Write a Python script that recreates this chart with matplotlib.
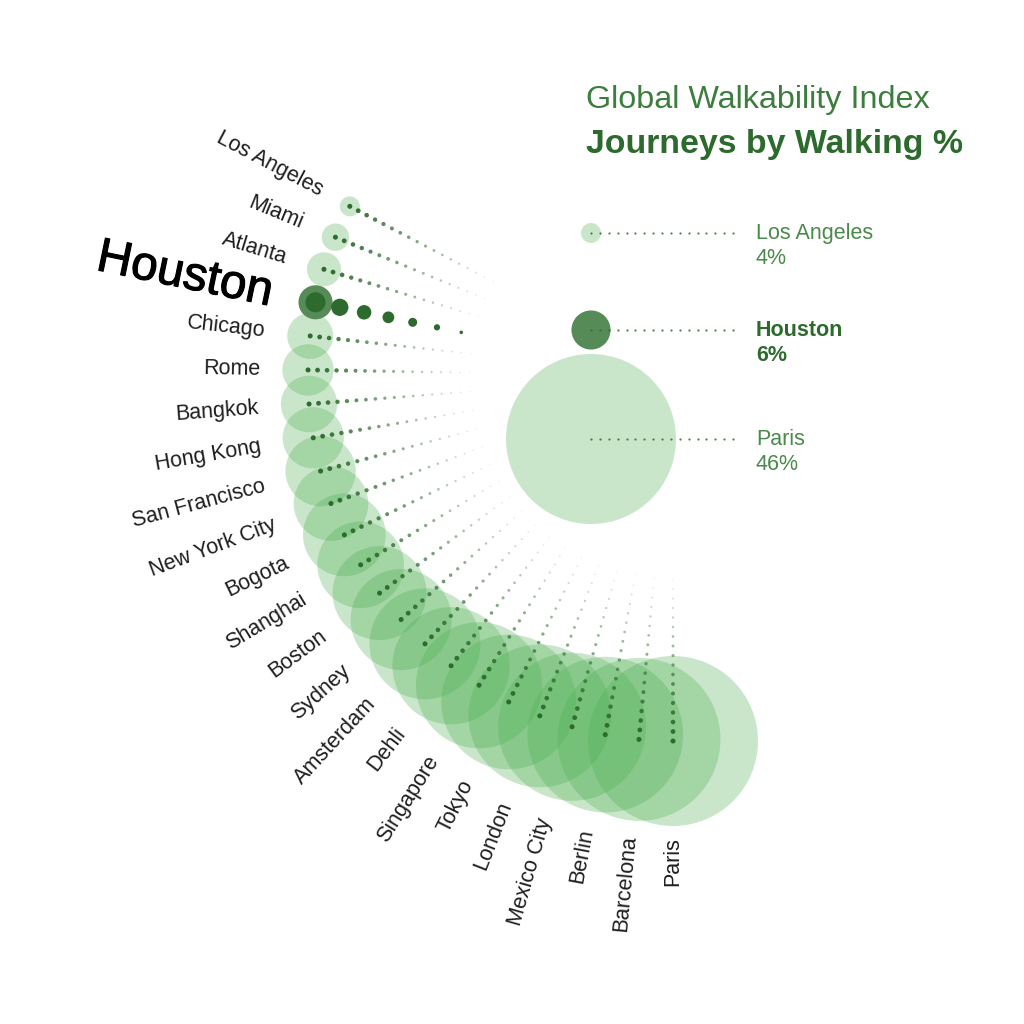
import numpy as np
import matplotlib.pyplot as plt
import matplotlib.patheffects as pe
from matplotlib.patches import Circle

# data (journeys by walking, %)
cities = ["Los Angeles", "Miami", "Atlanta", "Houston", "Chicago", "Rome", "Bangkok",
          "Hong Kong", "San Francisco", "New York City", "Bogota", "Shanghai", "Boston",
          "Sydney", "Amsterdam", "Dehli", "Singapore", "Tokyo", "London", "Mexico City",
          "Berlin", "Barcelona", "Paris"]
walking_pct = [4, 5, 6, 6, 8, 9, 10, 11, 13, 14, 16, 17, 19, 21, 24, 26, 29, 32, 35,
               37, 40, 43, 46]
highlight = "Houston"
legend_cities = ["Los Angeles", "Houston", "Paris"]

# layout
CX, CY, R = 673, 376, 365
START, STEP = 207.7, 5.35
GREEN = "#4caf50"
DARK = "#2d6a2d"
HL = "#568a56"

lo, hi = min(walking_pct), max(walking_pct)


def bubble_r(v):
    return 10 + 75 * (np.sqrt(v) - np.sqrt(lo)) / (np.sqrt(hi) - np.sqrt(lo))


def s_of(d_px):
    return (d_px * 0.72) ** 2


plt.rcParams["font.family"] = ["Liberation Sans", "DejaVu Sans"]
fig = plt.figure(figsize=(10.24, 10.24), dpi=100)
ax = fig.add_axes([0, 0, 1, 1])
ax.set_xlim(0, 1024)
ax.set_ylim(1024, 0)
ax.set_aspect("equal")
ax.axis("off")

for i, (city, v) in enumerate(zip(cities, walking_pct)):
    th = np.radians(START - i * STEP)
    x, y = CX + R * np.cos(th), CY + R * np.sin(th)
    r = bubble_r(v)
    ux, uy = -np.cos(th), -np.sin(th)
    big = city == highlight
    if big:
        ax.add_patch(Circle((x, y), r, fc=HL, ec="none", zorder=5))
        n, gap = 7, 24.8
        d = np.linspace(20, 3.5, n)
        a = np.ones(n)
    else:
        ax.add_patch(Circle((x, y), r, fc=GREEN, alpha=0.3, ec="none", zorder=2))
        n, gap = 18, 9.5
        d = np.linspace(5, 1.4, n)
        a = np.linspace(1, 0.1, n)
    k = np.arange(n) * gap
    cols = [(0.176, 0.416, 0.176, al) for al in a]
    ax.scatter(x + ux * k, y + uy * k, s=s_of(d), c=cols, lw=0, zorder=6)

    # radial label
    lr = R + (r + 27 if big else min(r + 22, 96))
    rot = np.degrees(np.arctan2(np.sin(th), -np.cos(th)))
    t = ax.text(CX + lr * np.cos(th), CY + lr * np.sin(th), city,
                rotation=rot, rotation_mode="anchor", ha="right", va="center",
                fontsize=34.5 if big else 15.5, color="black" if big else "#1e1e1e",
                zorder=7)
    if big:
        t.set_path_effects([pe.withStroke(linewidth=0.8, foreground="black")])

# titles
ax.text(586, 108, "Global Walkability Index", fontsize=23.3, color="#3d7d3d",
        ha="left", va="baseline")
ax.text(586, 153, "Journeys by Walking %", fontsize=24.4, fontweight="bold",
        color=DARK, ha="left", va="baseline")

# legend
leg_y = [233, 330, 439]
for city, ly in zip(legend_cities, leg_y):
    v = walking_pct[cities.index(city)]
    r = bubble_r(v)
    big = city == highlight
    if big:
        ax.add_patch(Circle((591, ly), r + 2.5, fc=HL, ec="none", zorder=2))
    else:
        ax.add_patch(Circle((591, ly), r, fc=GREEN, alpha=0.3, ec="none", zorder=2))
    lx = np.linspace(591, 733, 17)
    ax.scatter(lx, np.full_like(lx, ly), s=s_of(2.2), c=DARK, alpha=0.85, lw=0, zorder=6)
    col = DARK if big else "#4a8a4a"
    fw = "bold" if big else "normal"
    ax.text(756, ly + 6, city, fontsize=15.5, color=col, fontweight=fw,
            ha="left", va="baseline")
    ax.text(756, ly + 31, f"{v}%", fontsize=15.5, color=col, fontweight=fw,
            ha="left", va="baseline")

fig.savefig("out.png", dpi=100, facecolor="white")
